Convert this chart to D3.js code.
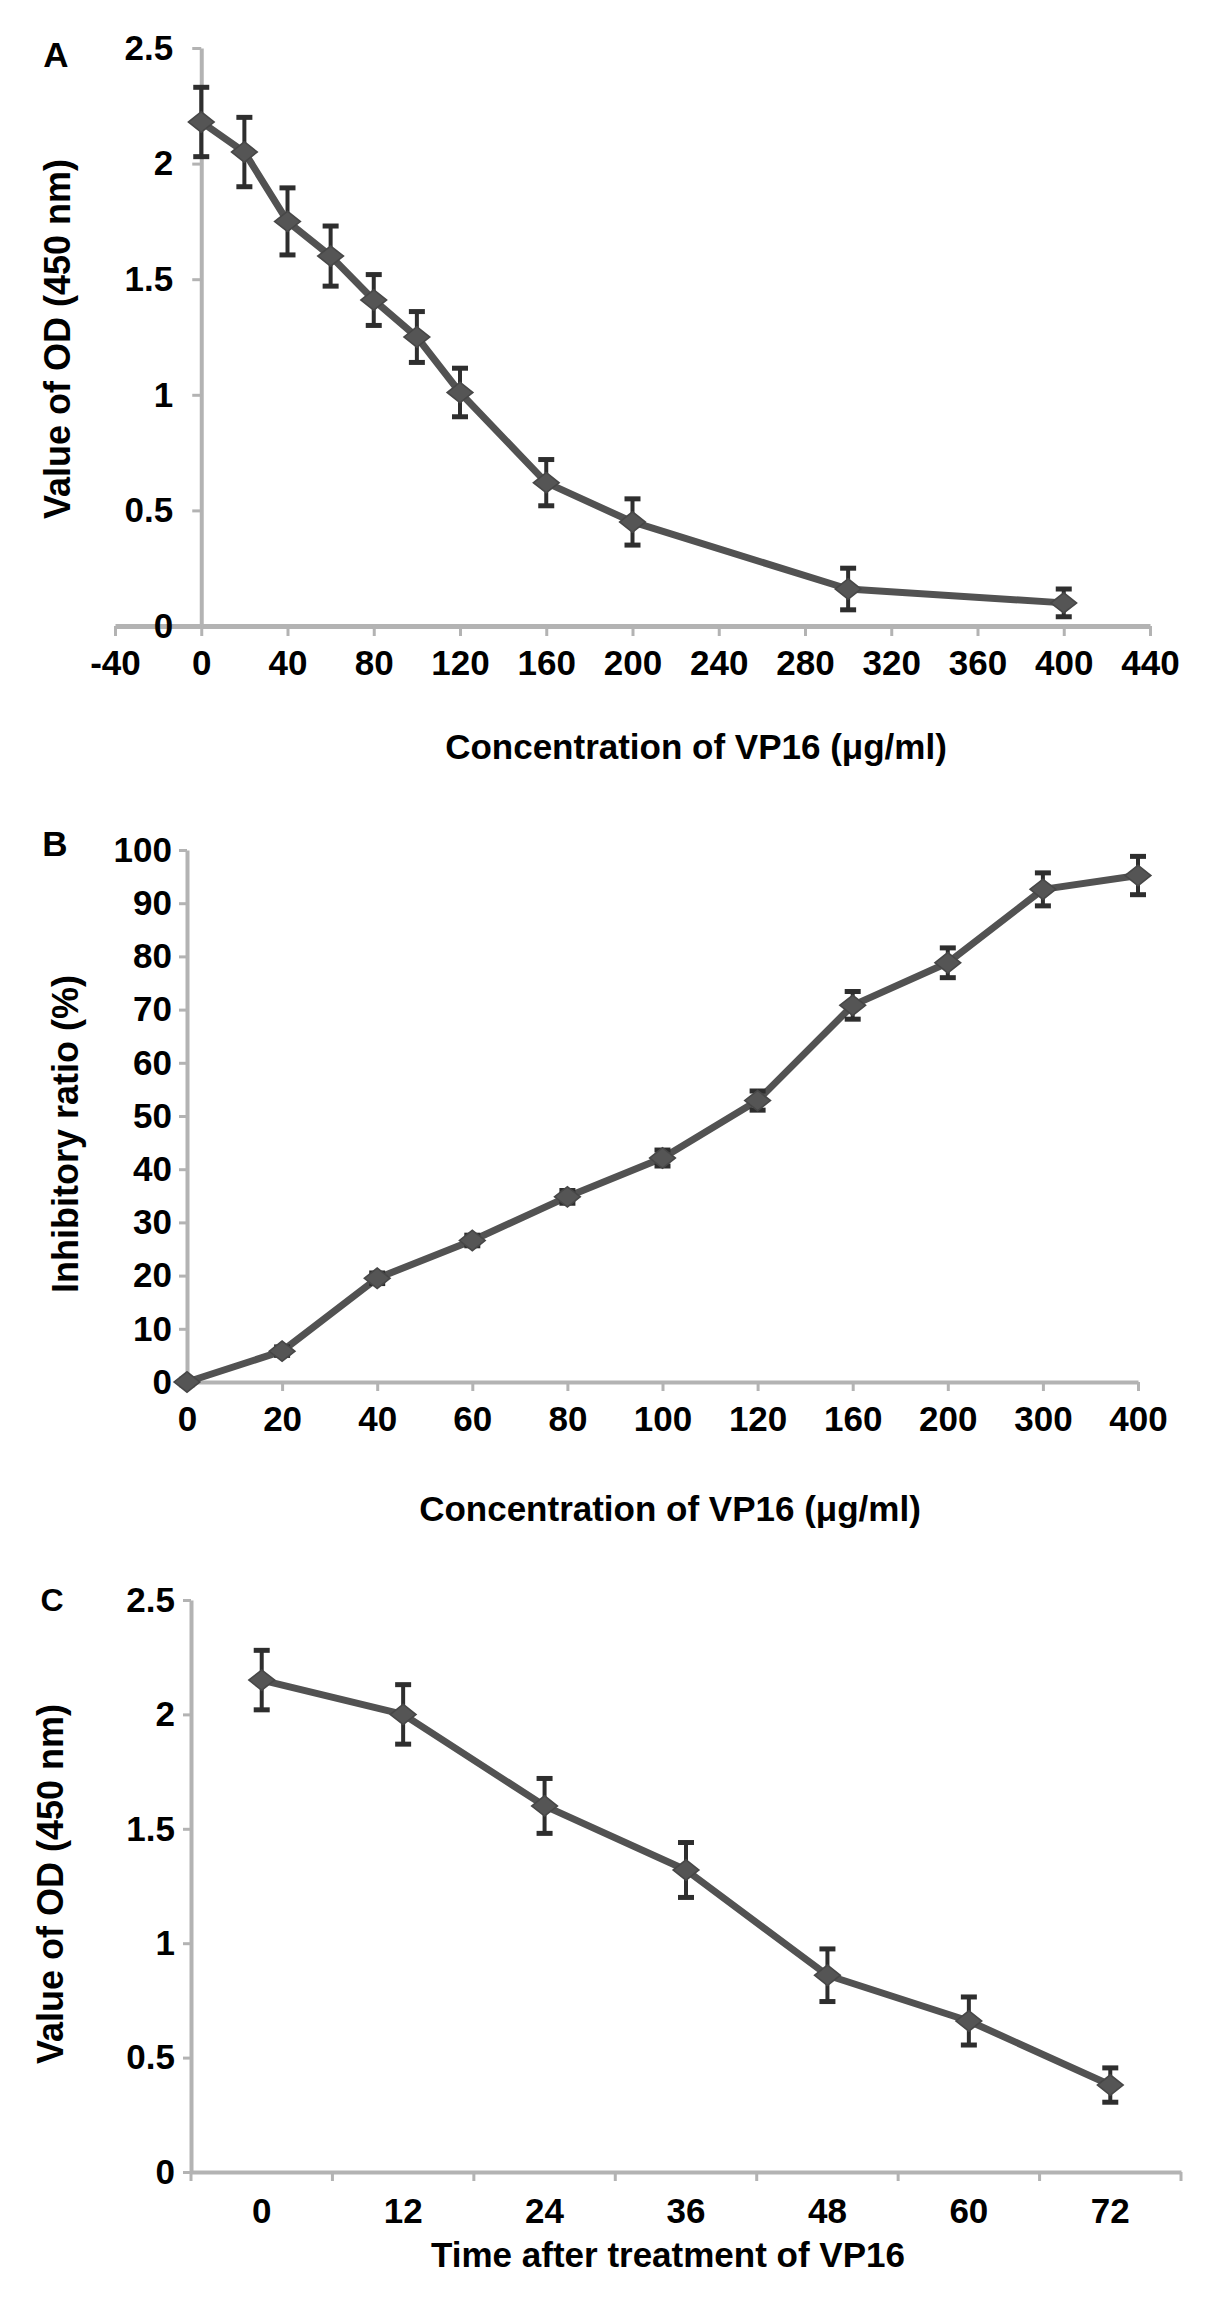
<!DOCTYPE html>
<html>
<head>
<meta charset="utf-8">
<script src="https://cdn.jsdelivr.net/npm/d3@7"></script>
<style>
  html, body { margin: 0; padding: 0; background: #fff; }
  svg { display: block; font-family: "Liberation Sans", Arial, sans-serif; font-weight: bold; }
</style>
</head>
<body>
<svg id="chart" width="1205" height="2298"></svg>
<script>
// Panel A: OD vs concentration
const concA = [0, 20, 40, 60, 80, 100, 120, 160, 200, 300, 400];
const odA   = [2.18, 2.05, 1.75, 1.60, 1.41, 1.25, 1.01, 0.62, 0.45, 0.16, 0.10];
const errA  = [0.15, 0.15, 0.145, 0.13, 0.11, 0.11, 0.105, 0.10, 0.10, 0.09, 0.06];
const xTicksA = [-40, 0, 40, 80, 120, 160, 200, 240, 280, 320, 360, 400, 440];
const yTicksOD = [0, 0.5, 1, 1.5, 2, 2.5];

// Panel B: inhibitory ratio (category axis)
const catsB = ["0", "20", "40", "60", "80", "100", "120", "160", "200", "300", "400"];
const inhB  = [0, 5.8, 19.5, 26.6, 34.8, 42.1, 52.9, 70.8, 78.8, 92.6, 95.2];
const errB  = [0.5, 0.8, 1, 1, 1.2, 1.5, 1.8, 2.6, 2.8, 3.1, 3.6];
const yTicksB = [0, 10, 20, 30, 40, 50, 60, 70, 80, 90, 100];

// Panel C: OD vs time
const timeC = ["0", "12", "24", "36", "48", "60", "72"];
const odC   = [2.15, 2.00, 1.60, 1.32, 0.86, 0.66, 0.38];
const errC  = [0.13, 0.13, 0.12, 0.12, 0.115, 0.105, 0.075];

const svg = d3.select("#chart");
const axisColor = "#b3b3b3";
const lineColor = "#525252";
const tickFont = 35;
const titleFont = 35;
const fmt = d => String(d);   // plain hyphen for negatives, like the original

svg.append("rect").attr("width", 1205).attr("height", 2298).attr("fill", "#fff");

function styleAxis(g, width) {
    g.select(".domain").attr("stroke", axisColor).attr("stroke-width", width);
    g.selectAll(".tick line").attr("stroke", axisColor).attr("stroke-width", 3);
    g.selectAll(".tick text")
        .attr("fill", "#000")
        .style("font-size", tickFont + "px")
        .style("font-weight", "bold")
        .style("font-family", "'Liberation Sans', Arial, sans-serif");
}

function drawSeries(g, pts, x, y) {
    const line = d3.line().x(d => x(d.x)).y(d => y(d.v));
    g.append("path")
        .datum(pts)
        .attr("d", line)
        .attr("fill", "none")
        .attr("stroke", lineColor)
        .attr("stroke-width", 7)
        .attr("stroke-linejoin", "round");

    const eb = g.append("g").attr("stroke", "#2e2e2e");
    eb.selectAll("line.v").data(pts).join("line")
        .attr("class", "v")
        .attr("x1", d => x(d.x)).attr("x2", d => x(d.x))
        .attr("y1", d => y(d.v + d.e)).attr("y2", d => y(d.v - d.e))
        .attr("stroke-width", 4);
    ["top", "bot"].forEach(k => {
        eb.selectAll("line." + k).data(pts).join("line")
            .attr("class", k)
            .attr("x1", d => x(d.x) - 8).attr("x2", d => x(d.x) + 8)
            .attr("y1", d => y(k === "top" ? d.v + d.e : d.v - d.e))
            .attr("y2", d => y(k === "top" ? d.v + d.e : d.v - d.e))
            .attr("stroke-width", 5);
    });

    // Excel-like diamond, a bit wider than tall
    g.selectAll("path.marker").data(pts).join("path")
        .attr("class", "marker")
        .attr("d", d3.symbol().type(d3.symbolSquare).size(230))
        .attr("transform", d => `translate(${x(d.x)},${y(d.v)}) scale(1.2,0.95) rotate(45)`)
        .attr("fill", "#555")
        .attr("stroke", "#474747")
        .attr("stroke-width", 1.5);
}

// ---------- Panel A ----------
{
    const g = svg.append("g");
    const x = d3.scaleLinear().domain([-40, 440]).range([115, 1150]);
    const y = d3.scaleLinear().domain([0, 2.5]).range([626, 48]);

    g.append("g")
        .attr("transform", `translate(0,${y(0)})`)
        .call(d3.axisBottom(x).tickValues(xTicksA).tickFormat(fmt).tickSize(10).tickPadding(14).tickSizeOuter(0))
        .call(a => styleAxis(a, 5));

    g.append("g")
        .attr("transform", `translate(${x(0)},0)`)
        .call(d3.axisLeft(y).tickValues(yTicksOD).tickFormat(fmt).tickSize(9).tickPadding(19).tickSizeOuter(0))
        .call(a => styleAxis(a, 4));

    const pts = concA.map((c, i) => ({ x: c, v: odA[i], e: errA[i] }));
    drawSeries(g, pts, x, y);

    g.append("text").attr("x", 56).attr("y", 67).attr("text-anchor", "middle")
        .style("font-size", "35px").text("A");
    g.append("text")
        .attr("transform", "translate(70,339) rotate(-90)")
        .attr("text-anchor", "middle")
        .style("font-size", "36px")
        .text("Value of OD (450 nm)");
    g.append("text").attr("x", 696).attr("y", 759).attr("text-anchor", "middle")
        .style("font-size", titleFont + "px").text("Concentration of VP16 (μg/ml)");
}

// ---------- Panel B ----------
{
    const g = svg.append("g");
    const x = d3.scalePoint().domain(catsB).range([187, 1138]);
    const y = d3.scaleLinear().domain([0, 100]).range([1382, 850]);

    g.append("g")
        .attr("transform", `translate(0,${y(0)})`)
        .call(d3.axisBottom(x).tickSize(9).tickPadding(15).tickSizeOuter(0))
        .call(a => styleAxis(a, 4));

    g.append("g")
        .attr("transform", `translate(${x("0")},0)`)
        .call(d3.axisLeft(y).tickValues(yTicksB).tickSize(8).tickPadding(7).tickSizeOuter(0))
        .call(a => styleAxis(a, 4));

    const pts = catsB.map((c, i) => ({ x: c, v: inhB[i], e: errB[i] }));
    drawSeries(g, pts, x, y);

    g.append("text").attr("x", 55).attr("y", 856).attr("text-anchor", "middle")
        .style("font-size", "35px").text("B");
    g.append("text")
        .attr("transform", "translate(78,1134) rotate(-90)")
        .attr("text-anchor", "middle")
        .style("font-size", "36px")
        .text("Inhibitory ratio (%)");
    g.append("text").attr("x", 670).attr("y", 1521).attr("text-anchor", "middle")
        .style("font-size", titleFont + "px").text("Concentration of VP16 (μg/ml)");
}

// ---------- Panel C ----------
{
    const g = svg.append("g");
    const x = d3.scaleBand().domain(timeC).range([191, 1181]);
    const y = d3.scaleLinear().domain([0, 2.5]).range([2172, 1600]);
    const xc = d => x(d) + x.bandwidth() / 2;

    const ax = g.append("g")
        .attr("transform", `translate(0,${y(0)})`)
        .call(d3.axisBottom(x).tickSize(0).tickPadding(26).tickSizeOuter(0))
        .call(a => styleAxis(a, 4));
    // tick marks between categories
    const bounds = timeC.map(d => x(d)).concat([x.range()[1]]);
    ax.selectAll("line.between").data(bounds).join("line")
        .attr("class", "between")
        .attr("x1", d => d).attr("x2", d => d)
        .attr("y1", 0).attr("y2", 9)
        .attr("stroke", axisColor).attr("stroke-width", 3);

    g.append("g")
        .attr("transform", `translate(${x.range()[0]},0)`)
        .call(d3.axisLeft(y).tickValues(yTicksOD).tickFormat(fmt).tickSize(8).tickPadding(8).tickSizeOuter(0))
        .call(a => styleAxis(a, 4));

    const pts = timeC.map((c, i) => ({ x: c, v: odC[i], e: errC[i] }));
    drawSeries(g, pts, xc, y);

    g.append("text").attr("x", 52).attr("y", 1611).attr("text-anchor", "middle")
        .style("font-size", "32px").text("C");
    g.append("text")
        .attr("transform", "translate(63,1884) rotate(-90)")
        .attr("text-anchor", "middle")
        .style("font-size", "36px")
        .text("Value of OD (450 nm)");
    g.append("text").attr("x", 668).attr("y", 2267).attr("text-anchor", "middle")
        .style("font-size", titleFont + "px").text("Time after treatment of VP16");
}
</script>
</body>
</html>
